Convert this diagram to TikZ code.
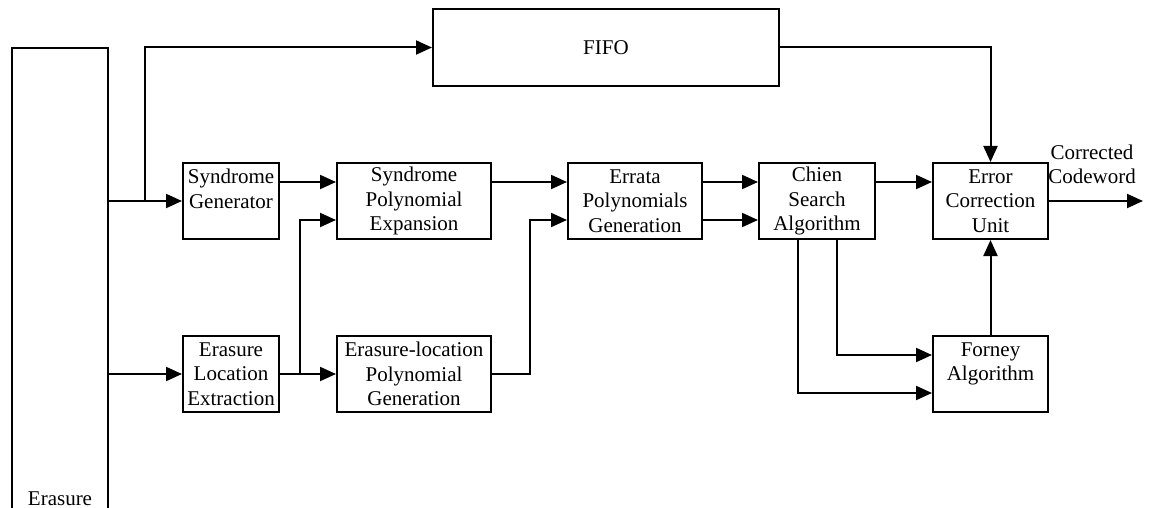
\documentclass[tikz,border=0pt]{standalone}
\usepackage{fontspec}
\setmainfont{Liberation Serif}
\usetikzlibrary{arrows.meta,positioning}
\tikzset{
  txt/.style = {align=center, inner sep=2pt,
    font=\fontsize{21}{24.5}\selectfont},
  blk/.style = {txt, rectangle, draw=black, line width=2pt,
    minimum height=76pt},% bloc
  blk_s/.style = {blk, minimum width=96pt},% bloc etroit
  blk_m/.style = {blk, minimum width=116pt},% bloc moyen
  blk_w/.style = {blk, minimum width=154pt},% bloc large
  wire/.style = {line width=2pt, -{Triangle[length=16pt,width=14pt]}},
  ln/.style = {line width=2pt}
}
\begin{document}
\begin{tikzpicture}[x=1pt,y=-1pt]
        \useasboundingbox (0,0) rectangle (1151,508);
        \clip (0,0) rectangle (1151,508);
        % blocs
        \node [blk, minimum width=96pt, minimum height=470pt,
            anchor=north west] (erasure) at (11,47) {};
        \node [txt, anchor=base] (erasure_t) at ([yshift=14pt]erasure.south) {Erasure};
        \node [blk, minimum width=346pt, minimum height=77pt] (fifo) at (606,47.5) {FIFO};
        \node [blk_s] (sg) at (231,201) {Syndrome\\Generator\\~};
        \node [blk_w] (spe) at (414,201) {Syndrome\\Polynomial\\Expansion};
        \node [blk_s] (ele) at (231,374) {Erasure\\Location\\Extraction};
        \node [blk_w] (elpg) at (414,374) {Erasure-location\\Polynomial\\Generation};
        \node [blk, minimum width=134pt] (epg) at (635,201) {Errata\\Polynomials\\Generation};
        \node [blk_m] (chien) at (817,201) {Chien\\Search\\Algorithm};
        \node [blk, minimum width=115pt] (ecu) at (990.5,201) {Error\\Correction\\Unit};
        \node [blk, minimum width=115pt] (forney) at (990.5,374) {Forney\\Algorithm\\~};
        \node [txt, anchor=south] (cw) at (1092,186) {Corrected\\Codeword};
        \coordinate (tap1) at (145,201);
        \coordinate (tap2) at (300,374);
        \coordinate (out) at (1143,201);
        % liaisons
        \draw [wire] (erasure.east |- sg) -- (sg.west);
        \draw [wire] (tap1) |- (fifo.west);
        \draw [wire] (erasure.east |- ele) -- (ele.west);
        \draw [wire] ([yshift=19pt]sg.east) -- ([yshift=19pt]spe.west);
        \draw [wire] (ele.east) -- (elpg.west);
        \draw [wire] (tap2) |- ([yshift=-19pt]spe.west);
        \draw [wire] ([yshift=19pt]spe.east) -- ([yshift=19pt]epg.west);
        \draw [wire] (elpg.east) -- ++(38,0) |- ([yshift=-19pt]epg.west);
        \draw [wire] ([yshift=19pt]epg.east) -- ([yshift=19pt]chien.west);
        \draw [wire] ([yshift=-19pt]epg.east) -- ([yshift=-19pt]chien.west);
        \draw [wire] ([yshift=19pt]chien.east) -- ([yshift=19pt]ecu.west);
        \draw [wire] (fifo.east) -| (ecu.north);
        \draw [wire] (ecu.east) -- (out);
        \draw [wire] (forney.north) -- (ecu.south);
        \draw [wire] ([xshift=20pt]chien.south) |- ([yshift=19pt]forney.west);
        \draw [wire] ([xshift=-19pt]chien.south) |- ([yshift=-19pt]forney.west);
\end{tikzpicture}
\end{document}
